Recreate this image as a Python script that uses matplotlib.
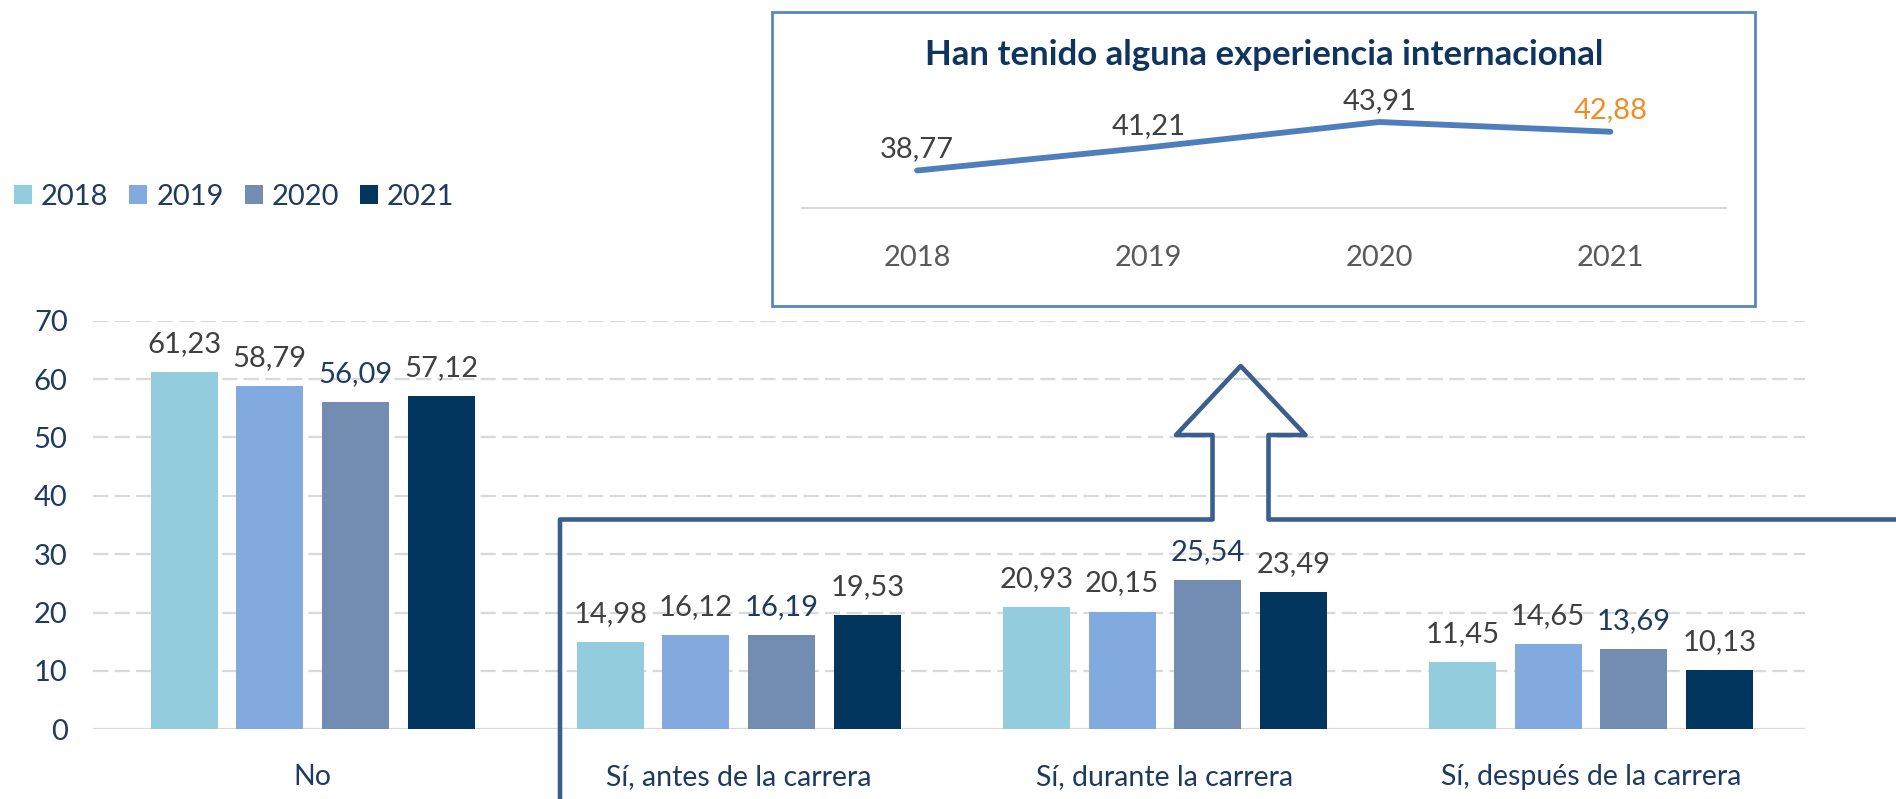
import matplotlib
matplotlib.use('Agg')
import matplotlib.pyplot as plt
from matplotlib.patches import Rectangle
from matplotlib.lines import Line2D

plt.rcParams['font.family'] = ['Lato', 'DejaVu Sans']
plt.rcParams['lines.scale_dashes'] = False

# Data
years = ['2018', '2019', '2020', '2021']
categories = ['No', 'Sí, antes de la carrera', 'Sí, durante la carrera', 'Sí, después de la carrera']
values_2018 = [61.23, 14.98, 20.93, 11.45]
values_2019 = [58.79, 16.12, 20.15, 14.65]
values_2020 = [56.09, 16.19, 25.54, 13.69]
values_2021 = [57.12, 19.53, 23.49, 10.13]
series = [values_2018, values_2019, values_2020, values_2021]

intl_years = ['2018', '2019', '2020', '2021']
intl_values = [38.77, 41.21, 43.91, 42.88]

BAR_COLORS = ['#93CCDD', '#82AADE', '#728DB1', '#03365F']
LABEL_COLORS = ['#404040', '#404040', '#1F3A60', '#404040']
NAVY = '#1F3A60'
GRID = '#D9D9D9'
NUM_FS = 21

W, H = 1896, 799


def fx(x):
    return x / W


def fy(y):
    return 1 - y / H


def fmt(v):
    return f'{v:.2f}'.replace('.', ',')


fig = plt.figure(figsize=(W / 100, H / 100), dpi=100)

# ---- main bar chart ----
ax = fig.add_axes([fx(92.7), fy(729.3), (1805 - 92.7) / W, (729.3 - 320.7) / H])
x = list(range(len(categories)))
bar_w = 0.157
step = 0.201
bars = []
for i, vals in enumerate(series):
    offs = (i - 1.5) * step
    b = ax.bar([xi + offs for xi in x], vals, width=bar_w, color=BAR_COLORS[i],
               edgecolor='none', label=years[i], zorder=3)
    bars.append(b)
    for xi, v in zip(x, vals):
        ax.annotate(fmt(v), (xi + offs, v), xytext=(0, 14.5), textcoords='offset points',
                    ha='center', va='baseline', fontsize=NUM_FS, color=LABEL_COLORS[i])

ax.set_ylim(0, 70)
ax.set_xlim(-0.516, 3.502)
ax.set_yticks(range(0, 71, 10))
ax.set_xticks(x)
ax.set_xticklabels(categories, fontsize=20.5)
for yv in range(10, 71, 10):
    gl = ax.axhline(yv, color=GRID, lw=1.6, zorder=1)
    gl.set_dashes((11, 4.5))
ax.axhline(0, color=GRID, lw=1.6, zorder=2)
for s in ax.spines.values():
    s.set_visible(False)
ax.tick_params(axis='both', length=0, colors=NAVY)
ax.tick_params(axis='y', pad=18, labelsize=NUM_FS)
ax.tick_params(axis='x', pad=25)

fig.legend(handles=bars, labels=years, loc='center left', bbox_to_anchor=(fx(14), fy(197)),
           ncol=4, frameon=False, fontsize=NUM_FS, labelcolor=NAVY,
           handlelength=0.62, handleheight=0.62, handletextpad=0.3, columnspacing=0.72,
           borderaxespad=0, borderpad=0)

# ---- inset box ----
fig.patches.append(Rectangle((fx(771.5), fy(305.5)), (1755 - 771.5) / W, (305.5 - 12) / H,
                             transform=fig.transFigure, facecolor='white',
                             edgecolor='#5A86C0', lw=2, zorder=5))

fig.text(fx(1264), fy(55), 'Han tenido alguna experiencia internacional', ha='center', va='center',
         fontsize=25, fontweight='bold', color='#0F355E', zorder=7)

ax2 = fig.add_axes([fx(801.5), fy(208), (1726 - 801.5) / W, 94.4 / H], zorder=6)
ax2.patch.set_visible(False)
xi2 = list(range(len(intl_years)))
ax2.plot(xi2, intl_values, color='#4F7EBD', lw=4.2, solid_capstyle='round',
         solid_joinstyle='round')
label_cols = ['#404040', '#404040', '#404040', '#F58A1F']
for xv, v, c in zip(xi2, intl_values, label_cols):
    ax2.annotate(fmt(v), (xv, v), xytext=(0, 9.5), textcoords='offset points',
                 ha='center', va='baseline', fontsize=NUM_FS, color=c)
ax2.set_xlim(-0.5, 3.5)
ax2.set_ylim(34.8, 44.8)
ax2.set_xticks(xi2)
ax2.set_xticklabels(intl_years)
ax2.set_yticks([])
for k in ['top', 'right', 'left']:
    ax2.spines[k].set_visible(False)
ax2.spines['bottom'].set_color(GRID)
ax2.spines['bottom'].set_linewidth(1.6)
ax2.tick_params(axis='x', length=0, labelsize=NUM_FS, colors='#595959', pad=27)

# ---- arrow outline linking the "Sí" groups to the inset ----
ax_pts = [(560, 810), (560, 519.5), (1212.5, 519.5), (1212.5, 435), (1176, 435),
          (1240.7, 366), (1305.5, 435), (1268.5, 435), (1268.5, 519.5), (1900, 519.5)]
fig.lines.append(Line2D([fx(p[0]) for p in ax_pts], [fy(p[1]) for p in ax_pts],
                        transform=fig.transFigure, color='#3A5E8E', lw=3.3,
                        solid_joinstyle='round', zorder=8))

fig.savefig('out.png', dpi=100, facecolor='white')
